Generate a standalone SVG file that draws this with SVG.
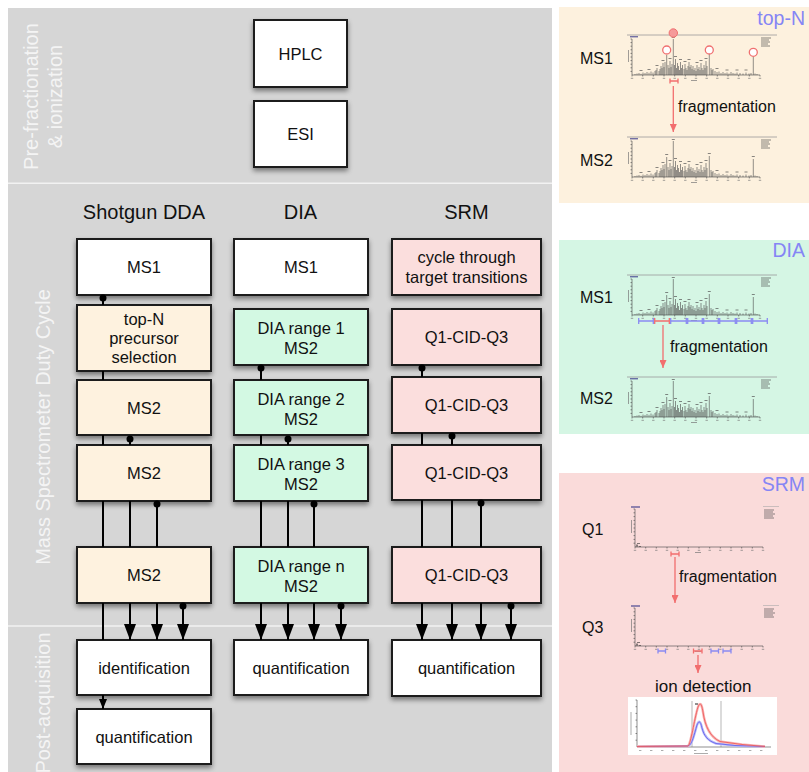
<svg xmlns="http://www.w3.org/2000/svg" width="809" height="772" viewBox="0 0 809 772">
<defs>
<style>
text{font-family:"Liberation Sans",Arial,Helvetica,sans-serif}
.box{stroke:#1a1a1a;stroke-width:2}
.w{fill:#fff}.o{fill:#fef2df}.g{fill:#d3f9e3}.p{fill:#fbdedd}
.t{font-size:16.5px;fill:#111;text-anchor:middle}
.h{font-size:20px;fill:#111;text-anchor:middle}
.sec{font-size:20px;fill:#f4f4f4;text-anchor:middle}
.c{stroke:#000;stroke-width:2;fill:none}
.rl{font-size:16px;fill:#111}
.pt{font-size:19.5px;fill:#8585f5;text-anchor:end}
.red{stroke:#f26e6e;stroke-width:1.3;fill:none}
.blu{stroke:#8a8af2;stroke-width:1.3;fill:none}
.ax{stroke:#444;stroke-width:0.6;fill:none}
.pk{stroke:#4a4a4a;stroke-width:0.6;fill:none}
.lb{stroke:#555;stroke-width:0.7;fill:none}
</style>
<filter id="sh" x="-20%" y="-20%" width="140%" height="150%"><feDropShadow dx="0" dy="3" stdDeviation="2.5" flood-color="#000" flood-opacity="0.45"/></filter>
<marker id="dot" markerUnits="userSpaceOnUse" markerWidth="8" markerHeight="8" refX="4" refY="4" viewBox="0 0 8 8"><circle cx="4" cy="4" r="3.5" fill="#000"/></marker>
<marker id="arr" markerUnits="userSpaceOnUse" markerWidth="16" markerHeight="12" refX="16" refY="6" orient="auto" viewBox="0 0 16 12"><path d="M0 0L16 6L0 12z" fill="#000"/></marker>
<marker id="arrs" markerUnits="userSpaceOnUse" markerWidth="10" markerHeight="8" refX="10" refY="4" orient="auto" viewBox="0 0 10 8"><path d="M0 0L10 4L0 8z" fill="#000"/></marker>
<marker id="rarr" markerUnits="userSpaceOnUse" markerWidth="8" markerHeight="7" refX="8" refY="3.5" orient="auto" viewBox="0 0 8 7"><path d="M0 0L8 3.5L0 7z" fill="#f26e6e"/></marker>
<g id="spec">
<path d="M0 0H150" stroke="#9a9a9a" stroke-width="0.8"/>
<path d="M3 1.8h8" stroke="#3a3a8a" stroke-width="1"/>
<path class="ax" d="M5 4V40H133"/>
<path class="ax" d="M3.5 4h1.5M3.5 7.6h1.5M3.5 11.2h1.5M3.5 14.8h1.5M3.5 18.4h1.5M3.5 22h1.5M3.5 25.6h1.5M3.5 29.2h1.5M3.5 32.8h1.5M3.5 36.4h1.5M5 40v1.5M15.7 40v1.5M26.3 40v1.5M37 40v1.5M47.7 40v1.5M58.3 40v1.5M69 40v1.5M79.7 40v1.5M90.3 40v1.5M101 40v1.5M111.7 40v1.5M122.3 40v1.5M133 40v1.5"/>
<path d="M3.8 43.3h2.4M14.5 43.3h2.4M25.1 43.3h2.4M35.8 43.3h2.4M46.5 43.3h2.4M57.1 43.3h2.4M67.8 43.3h2.4M78.5 43.3h2.4M89.1 43.3h2.4M99.8 43.3h2.4M110.5 43.3h2.4M121.1 43.3h2.4M131.8 43.3h2.4M64 45.5h6M1.5 15V27" stroke="#777" stroke-width="0.7"/>
<path class="lb" d="M134 3h10M134 5h8M134 7h9M134 9h7M134 11h9"/>
<path class="pk" d="M8 40V39M10 40V38.5M12 40V38M14 40V38.8M16 40V37.5M18 40V38M20 40V37M22 40V37.8M24 40V36.5M26 40V37.5M28 40V36M29 40V35M30 40V33M32 40V36M33 40V34M34 40V31M35 40V33M36 40V28M37 40V32M38 40V27M39.7 40V20M41 40V30M42 40V33M43 40V26M44 40V32M45 40V29M46.3 40V4M47.5 40V30M48.5 40V24M49.5 40V33M50.5 40V28M51.5 40V31M52.5 40V35M53.5 40V27M54.5 40V33M55.5 40V30M57 40V34M58 40V29M59 40V33M60 40V35M61 40V31M62 40V27M63 40V32M64 40V30M65 40V34M66 40V31M67 40V35M68 40V33M69 40V36M70 40V30M71 40V34M72 40V32M73 40V35M74 40V28M75 40V33M76 40V35M77 40V30M78 40V33M79 40V26M80 40V31M82.3 40V19M84 40V33M85 40V35M86 40V34M88 40V36M90 40V37M92 40V36.5M94 40V38M96 40V37M98 40V38M100 40V37.5M102 40V38.5M104 40V37M106 40V38M108 40V38.5M110 40V37.5M113 40V38M116 40V38.5M119 40V37.5M122 40V38.5M124 40V38M126.3 40V22M128 40V38.5M130 40V39"/>
<path class="lb" d="M44.8 2.5h3M38.2 17.5h3M34.5 25.5h3M41.5 23.5h3M47 21.5h3M52 24.5h3M56.5 26.5h3M60.5 24.5h3M68.5 27.5h3M72.5 25.5h3M77.5 23.5h3M80.8 16.5h3M124.8 19.5h3M28.5 30.5h3M98.5 35h3M108.5 35h3M117.5 35h3M88.5 33.5h3M20.5 34.5h3M12.5 35.5h3"/>
</g>
<g id="qspec">
<path d="M0 1h9" stroke="#3a3a8a" stroke-width="1.1"/>
<path d="M132 0.5h16" stroke="#aaa" stroke-width="0.6"/>
<path class="lb" d="M133 4h10M133 6h9M133 8h11M133 10h9M133 12h10"/>
<path class="ax" d="M4 3V41H132M2.5 3h1.5M2.5 6.8h1.5M2.5 10.6h1.5M2.5 14.4h1.5M2.5 18.2h1.5M2.5 22h1.5M2.5 25.8h1.5M2.5 29.6h1.5M2.5 33.4h1.5M2.5 37.2h1.5M4 41v1.5M14.7 41v1.5M25.3 41v1.5M36 41v1.5M46.7 41v1.5M57.3 41v1.5M68 41v1.5M78.7 41v1.5M89.3 41v1.5M100 41v1.5M110.7 41v1.5M121.3 41v1.5M132 41v1.5"/>
<path d="M2.8 44.3h2.4M13.5 44.3h2.4M24.1 44.3h2.4M34.8 44.3h2.4M45.5 44.3h2.4M56.1 44.3h2.4M66.8 44.3h2.4M77.5 44.3h2.4M88.1 44.3h2.4M98.8 44.3h2.4M109.5 44.3h2.4M120.1 44.3h2.4M130.8 44.3h2.4M64 46.5h6M0.5 14V27" stroke="#777" stroke-width="0.7"/>
<path d="M5 41L6 38.5L7 41M8 40.5h2M6 37.5h3" stroke="#333" stroke-width="0.6" fill="none"/>
</g>
</defs>

<rect x="0" y="0" width="809" height="772" fill="#fff"/>
<rect x="8" y="8" width="544" height="764" fill="#d6d6d6"/>
<path d="M8 183.3H552M8 626H552" stroke="#f2f2f2" stroke-width="1.5"/>

<g id="section-labels">
<text class="sec" transform="translate(38,96.5) rotate(-90)">Pre-fractionation</text>
<text class="sec" transform="translate(62,96.5) rotate(-90)">&amp; ionization</text>
<text class="sec" transform="translate(50,427) rotate(-90)">Mass Spectrometer Duty Cycle</text>
<text class="sec" transform="translate(50,703) rotate(-90)">Post-acquisition</text>
</g>

<g id="headers">
<text class="h" x="144" y="219">Shotgun DDA</text>
<text class="h" x="300.5" y="219">DIA</text>
<text class="h" x="466.5" y="219">SRM</text>
</g>

<g id="hplc"><rect class="box w" filter="url(#sh)" x="254" y="20" width="93" height="67"/><text class="t" x="300.5" y="59.5">HPLC</text></g>
<g id="esi"><rect class="box w" filter="url(#sh)" x="254" y="101" width="93" height="66"/><text class="t" x="300.5" y="140">ESI</text></g>

<g id="dda-ms1"><rect class="box w" filter="url(#sh)" x="77" y="239" width="134" height="56"/><text class="t" x="144" y="273">MS1</text></g>
<g id="dda-topn"><rect class="box o" filter="url(#sh)" x="77" y="305" width="134" height="66"/><text class="t" x="144" y="325">top-N</text><text class="t" x="144" y="344">precursor</text><text class="t" x="144" y="363">selection</text></g>
<g id="dda-ms2a"><rect class="box o" filter="url(#sh)" x="77" y="380" width="134" height="55"/><text class="t" x="144" y="413.5">MS2</text></g>
<g id="dda-ms2b"><rect class="box o" filter="url(#sh)" x="77" y="445" width="134" height="56"/><text class="t" x="144" y="479">MS2</text></g>
<g id="dda-ms2n"><rect class="box o" filter="url(#sh)" x="77" y="547" width="134" height="56"/><text class="t" x="144" y="581">MS2</text></g>
<g id="dda-ident"><rect class="box w" filter="url(#sh)" x="77" y="640" width="134" height="55"/><text class="t" x="144" y="673.5">identification</text></g>
<g id="dda-quant"><rect class="box w" filter="url(#sh)" x="77" y="709" width="134" height="55"/><text class="t" x="144" y="742.5">quantification</text></g>

<g id="dia-ms1"><rect class="box w" filter="url(#sh)" x="234" y="239" width="134" height="56"/><text class="t" x="301" y="273">MS1</text></g>
<g id="dia-r1"><rect class="box g" filter="url(#sh)" x="234" y="309" width="134" height="56"/><text class="t" x="301" y="334">DIA range 1</text><text class="t" x="301" y="354">MS2</text></g>
<g id="dia-r2"><rect class="box g" filter="url(#sh)" x="234" y="380" width="134" height="55"/><text class="t" x="301" y="404.5">DIA range 2</text><text class="t" x="301" y="424.5">MS2</text></g>
<g id="dia-r3"><rect class="box g" filter="url(#sh)" x="234" y="445" width="134" height="56"/><text class="t" x="301" y="470">DIA range 3</text><text class="t" x="301" y="490">MS2</text></g>
<g id="dia-rn"><rect class="box g" filter="url(#sh)" x="234" y="547" width="134" height="56"/><text class="t" x="301" y="572">DIA range n</text><text class="t" x="301" y="592">MS2</text></g>
<g id="dia-quant"><rect class="box w" filter="url(#sh)" x="234" y="640" width="134" height="55"/><text class="t" x="301" y="673.5">quantification</text></g>

<g id="srm-cycle"><rect class="box p" filter="url(#sh)" x="392" y="239" width="149" height="56"/><text class="t" x="466.5" y="263">cycle through</text><text class="t" x="466.5" y="283">target transitions</text></g>
<g id="srm-q1"><rect class="box p" filter="url(#sh)" x="392" y="309" width="149" height="56"/><text class="t" x="466.5" y="343">Q1-CID-Q3</text></g>
<g id="srm-q2"><rect class="box p" filter="url(#sh)" x="392" y="377" width="149" height="56"/><text class="t" x="466.5" y="411">Q1-CID-Q3</text></g>
<g id="srm-q3"><rect class="box p" filter="url(#sh)" x="392" y="445" width="149" height="55"/><text class="t" x="466.5" y="478.5">Q1-CID-Q3</text></g>
<g id="srm-qn"><rect class="box p" filter="url(#sh)" x="392" y="547" width="149" height="56"/><text class="t" x="466.5" y="581">Q1-CID-Q3</text></g>
<g id="srm-quant"><rect class="box w" filter="url(#sh)" x="392" y="640" width="149" height="56"/><text class="t" x="466.5" y="674">quantification</text></g>

<g id="connectors">
<path class="c" d="M103 298V305" marker-start="url(#dot)"/>
<path class="c" d="M103 371V380"/>
<path class="c" d="M103 435V445"/>
<path class="c" d="M130 439V445" marker-start="url(#dot)"/>
<path class="c" d="M103 501V547M130 501V547"/>
<path class="c" d="M157 504V547" marker-start="url(#dot)"/>
<path class="c" d="M103 603V640"/>
<path class="c" d="M130 603V640" marker-end="url(#arr)"/>
<path class="c" d="M157 603V640" marker-end="url(#arr)"/>
<path class="c" d="M183 606V640" marker-start="url(#dot)" marker-end="url(#arr)"/>
<path class="c" d="M103 695V709" marker-end="url(#arrs)"/>

<path class="c" d="M261 368V380" marker-start="url(#dot)"/>
<path class="c" d="M261 435V445"/>
<path class="c" d="M288 439V445" marker-start="url(#dot)"/>
<path class="c" d="M261 501V547M288 501V547"/>
<path class="c" d="M314 504V547" marker-start="url(#dot)"/>
<path class="c" d="M261 603V640" marker-end="url(#arr)"/>
<path class="c" d="M288 603V640" marker-end="url(#arr)"/>
<path class="c" d="M314 603V640" marker-end="url(#arr)"/>
<path class="c" d="M341 606V640" marker-start="url(#dot)" marker-end="url(#arr)"/>

<path class="c" d="M422 368V377" marker-start="url(#dot)"/>
<path class="c" d="M422 433V445"/>
<path class="c" d="M452 436V445" marker-start="url(#dot)"/>
<path class="c" d="M422 500V547M452 500V547"/>
<path class="c" d="M481 503V547" marker-start="url(#dot)"/>
<path class="c" d="M422 603V640" marker-end="url(#arr)"/>
<path class="c" d="M452 603V640" marker-end="url(#arr)"/>
<path class="c" d="M481 603V640" marker-end="url(#arr)"/>
<path class="c" d="M511 606V640" marker-start="url(#dot)" marker-end="url(#arr)"/>
</g>

<g id="panel-topn">
<rect x="559" y="7" width="250" height="196" fill="#fdf1de"/>
<text class="pt" x="805" y="25">top-N</text>
<text class="rl" x="580" y="64">MS1</text>
<use href="#spec" x="627" y="35"/>
<circle cx="673.3" cy="33" r="4.2" fill="#f59a9a" stroke="#f07070" stroke-width="1"/>
<circle cx="666.7" cy="50" r="4" fill="#fff" stroke="#f07070" stroke-width="1.3"/>
<circle cx="709.3" cy="50" r="4" fill="#fff" stroke="#f07070" stroke-width="1.3"/>
<circle cx="753.3" cy="52.3" r="4" fill="#fff" stroke="#f07070" stroke-width="1.3"/>
<path class="red" d="M670 81H678M670 78.5V83.5M678 78.5V83.5"/>
<path class="red" d="M673.3 86V132" marker-end="url(#rarr)"/>
<text class="rl" x="678" y="112">fragmentation</text>
<text class="rl" x="580" y="166">MS2</text>
<use href="#spec" x="627" y="137"/>
</g>

<g id="panel-dia">
<rect x="559" y="240" width="250" height="194" fill="#d5f6e4"/>
<text class="pt" x="805" y="257">DIA</text>
<text class="rl" x="580" y="303">MS1</text>
<use href="#spec" x="627" y="275"/>
<path class="blu" d="M638.7 321H653.3M638.7 318V324M653.3 318V324M670.7 321H686.3M670.7 318V324M686.3 318V324M687.7 321H702.3M687.7 318V324M702.3 318V324M703.7 321H718.3M703.7 318V324M718.3 318V324M719.7 321H735.3M719.7 318V324M735.3 318V324M736.7 321H751.3M736.7 318V324M751.3 318V324M752.7 321H767.3M752.7 318V324M767.3 318V324"/>
<path class="red" d="M654.7 321H669.3M654.7 318V324M669.3 318V324"/>
<path class="red" d="M663 325V368" marker-end="url(#rarr)"/>
<text class="rl" x="670" y="352">fragmentation</text>
<text class="rl" x="580" y="404">MS2</text>
<use href="#spec" x="627" y="377"/>
</g>

<g id="panel-srm">
<rect x="559" y="473" width="250" height="299" fill="#fadbda"/>
<text class="pt" x="805" y="491">SRM</text>
<text class="rl" x="582" y="535">Q1</text>
<use href="#qspec" x="631" y="506"/>
<path class="red" d="M671 554H679M671 551.5V556.5M679 551.5V556.5"/>
<path class="red" d="M675 557V603" marker-end="url(#rarr)"/>
<text class="rl" x="679" y="582">fragmentation</text>
<text class="rl" x="582" y="633">Q3</text>
<use href="#qspec" x="631" y="605"/>
<path class="blu" d="M658 651H665.5M658 648.5V653.5M665.5 648.5V653.5M711 651H718.5M711 648.5V653.5M718.5 648.5V653.5M723 651H731M723 648.5V653.5M731 648.5V653.5"/>
<path class="red" d="M693.5 651H702M693.5 648.5V653.5M702 648.5V653.5"/>
<path class="red" d="M698 655V673" marker-end="url(#rarr)"/>
<text x="655" y="692" style="font-size:17px;fill:#111">ion detection</text>
<rect x="628" y="697" width="149" height="58" fill="#fff"/>
<path class="ax" d="M637 700V747H771M635.5 700h1.5M635.5 706.7h1.5M635.5 713.4h1.5M635.5 720.1h1.5M635.5 726.8h1.5M635.5 733.5h1.5M635.5 740.2h1.5"/>
<path d="M631 712V735M639 750.5h2.4M650 750.5h2.4M661 750.5h2.4M672 750.5h2.4M683 750.5h2.4M694 750.5h2.4M705 750.5h2.4M716 750.5h2.4M727 750.5h2.4M738 750.5h2.4M749 750.5h2.4M760 750.5h2.4M694 753.5h14" stroke="#888" stroke-width="0.7"/>
<path d="M692 701V747M721 701V747" stroke="#888" stroke-width="0.6"/>
<path d="M637 746.5L688 746C692 745 694 735 697 725C699 720 700.5 721 702 728C704 736 708 741 716 743.5L735 745.5L765 746.5" fill="none" stroke="#babaf7" stroke-width="2.5"/>
<path d="M637 746.5L688 746C691 744 694 720 698 707C700 702 701.5 703 703 712C705 726 710 737 720 741.5L742 744.5L765 746.5" fill="none" stroke="#f8b4b4" stroke-width="2.5"/>
<path d="M637 746.5L688 746C692 745 694 735 697 725C699 720 700.5 721 702 728C704 736 708 741 716 743.5L735 745.5L765 746.5" fill="none" stroke="#6464ee" stroke-width="0.9"/>
<path d="M637 746.5L688 746C691 744 694 720 698 707C700 702 701.5 703 703 712C705 726 710 737 720 741.5L742 744.5L765 746.5" fill="none" stroke="#ee5c5c" stroke-width="0.9"/>
<path d="M695 704h3" stroke="#222" stroke-width="1"/>
</g>
</svg>
